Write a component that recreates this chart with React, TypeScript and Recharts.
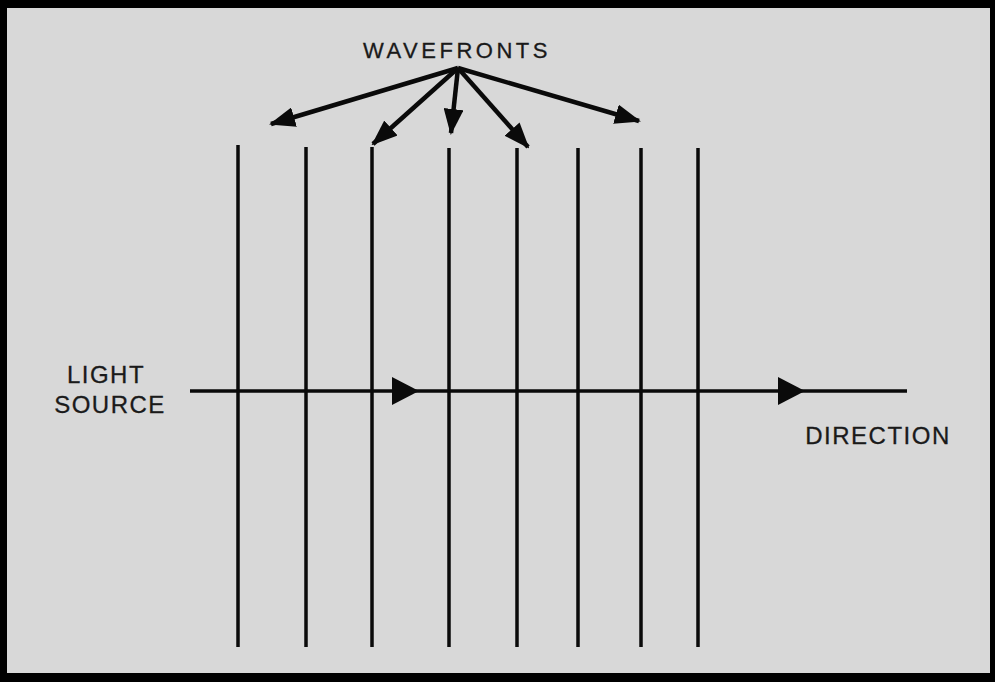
import { ComposedChart, XAxis, YAxis, ReferenceLine, ReferenceArea, Scatter } from 'recharts';

// wavefront x positions and their top ends (bottom is shared)
const wavefrontX = [238, 306, 372, 449, 517, 578, 641, 698];
const wavefrontTop = [145, 147, 147, 148, 148, 148, 148, 148];
const wavefrontBottom = 647;

// pointer arrows from the WAVEFRONTS label
const pointerOrigin = { x: 458, y: 68 };
const pointerTips = [
  { x: 271, y: 124 },
  { x: 373, y: 144 },
  { x: 451, y: 133 },
  { x: 528, y: 147 },
  { x: 639, y: 121 },
];

// propagation ray
const rayStart = { x: 190, y: 391 };
const rayEnd = { x: 907, y: 391 };
const rayHeads = [
  { x: 419, y: 391 },
  { x: 805, y: 391 },
];

const labels = [
  { x: 457, y: 58, text: 'WAVEFRONTS' },
  { x: 106, y: 383, text: 'LIGHT' },
  { x: 110, y: 413, text: 'SOURCE' },
  { x: 878, y: 444, text: 'DIRECTION' },
];

const INK = '#0a0a0a';

const ArrowLine = (p: any) => (
  <line x1={p.x1} y1={p.y1} x2={p.x2} y2={p.y2} stroke={INK} strokeWidth={4.5} markerEnd="url(#pointerHead)" />
);

const Triangle = (p: any) => (
  <polygon
    points={`${p.cx},${p.cy} ${p.cx - 27},${p.cy - 14} ${p.cx - 27},${p.cy + 14}`}
    fill={INK}
  />
);

const LabelText = (p: any) => (
  <text
    x={p.cx}
    y={p.cy}
    textAnchor="middle"
    fontFamily="'Liberation Sans', Arial, sans-serif"
    fontSize={p.payload.text === 'WAVEFRONTS' ? 22 : 24}
    letterSpacing={p.payload.text === 'WAVEFRONTS' ? 3.5 : 1.5}
    fill="#1a1a1a"
    stroke="#1a1a1a"
    strokeWidth={0.3}
  >
    {p.payload.text}
  </text>
);

export default function App() {
  return (
    <div style={{ position: 'absolute', left: 0, top: 0, width: 995, height: 682, background: '#000' }}>
      <ComposedChart width={995} height={682} margin={{ top: 0, right: 0, bottom: 0, left: 0 }}>
        <defs>
          <marker
            id="pointerHead"
            markerUnits="userSpaceOnUse"
            markerWidth={26}
            markerHeight={20}
            refX={24}
            refY={10}
            orient="auto"
          >
            <path d="M0,0 L26,10 L0,20 z" fill={INK} />
          </marker>
        </defs>
        <XAxis type="number" dataKey="x" domain={[0, 995]} hide allowDataOverflow />
        <YAxis type="number" dataKey="y" domain={[0, 682]} reversed hide allowDataOverflow />
        <ReferenceArea x1={7} x2={990} y1={8} y2={673} fill="#d8d8d8" fillOpacity={1} stroke="none" />
        {wavefrontX.map((x, i) => (
          <ReferenceLine
            key={`w${i}`}
            segment={[{ x, y: wavefrontTop[i] }, { x, y: wavefrontBottom }]}
            stroke={INK}
            strokeWidth={3.5}
          />
        ))}
        <ReferenceLine segment={[rayStart, rayEnd]} stroke={INK} strokeWidth={3.5} />
        {pointerTips.map((t, i) => (
          <ReferenceLine key={`p${i}`} segment={[pointerOrigin, t]} shape={ArrowLine} />
        ))}
        <Scatter data={rayHeads} shape={Triangle} isAnimationActive={false} />
        <Scatter data={labels} shape={LabelText} isAnimationActive={false} />
      </ComposedChart>
    </div>
  );
}
